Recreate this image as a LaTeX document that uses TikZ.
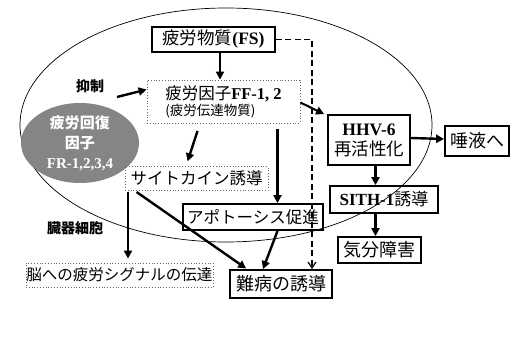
\documentclass[tikz,border=0pt]{standalone}
\usepackage{fontspec}
\setmainfont{Liberation Serif}
\newfontfamily\jp{Noto Sans CJK JP}
\usetikzlibrary{arrows.meta,shapes.geometric}
\newcommand\latb[1]{{\rmfamily\bfseries #1}}
\begin{document}
\begin{tikzpicture}[x=1pt,y=-1pt,
  solidbox/.style={draw=black,line width=1.8pt,inner sep=0pt,align=center,font=\jp\fontsize{16.5}{18}\selectfont},
  dotbox/.style={draw=black!60,dotted,line width=0.8pt,inner sep=0pt,align=center,font=\jp\fontsize{16.5}{18}\selectfont},
  arr/.style={line width=2.4pt,-{Triangle[length=8pt,width=8pt]}},
  darr/.style={line width=1.2pt,dash pattern=on 6pt off 3.5pt,-{Straight Barb[length=6pt,width=8pt]}},
  lbl/.style={font=\jp\bfseries\fontsize{14}{16}\selectfont}]
\useasboundingbox (0,0) rectangle (512,361);
\fill[white] (0,0) rectangle (512,361);
% big ellipse
\node[draw=black,line width=0.7pt,ellipse,minimum width=412pt,minimum height=234pt,inner sep=0pt] (cell) at (226,125) {};
% grey ellipse
\node[ellipse,fill=black!48,minimum width=118pt,minimum height=80pt,inner sep=0pt,text=white,align=center,font=\jp\bfseries\fontsize{15}{20}\selectfont] (fr) at (80,143) {疲労回復\\因子\\\latb{FR-1,2,3,4}};
% boxes
\node[solidbox,minimum width=123pt,minimum height=25pt,font=\jp\fontsize{17.5}{19}\selectfont] (fs) at (213.5,39.5) {疲労物質\latb{(FS)}};
\node[dotbox,minimum width=153pt,minimum height=43pt,align=left] (ff) at (223.5,101.5) {疲労因子\latb{FF-1, 2}\\[-2pt]{\fontsize{13.5}{15}\selectfont (疲労伝達物質)}};
\node[dotbox,minimum width=143pt,minimum height=24pt] (cyto) at (196.5,178.5) {サイトカイン誘導};
\node[solidbox,minimum width=140pt,minimum height=26pt] (apo) at (253,217) {アポトーシス促進};
\node[solidbox,minimum width=82pt,minimum height=50pt,font=\jp\fontsize{17.5}{20}\selectfont] (hhv) at (369,140) {\latb{HHV-6}\\再活性化};
\node[solidbox,minimum width=64pt,minimum height=30pt,font=\jp\fontsize{18}{20}\selectfont] (sal) at (477,141) {唾液へ};
\node[solidbox,minimum width=108pt,minimum height=27pt,font=\jp\fontsize{17}{19}\selectfont] (sith) at (384,199.5) {\latb{SITH-1}誘導};
\node[solidbox,minimum width=83pt,minimum height=26pt,font=\jp\fontsize{18}{20}\selectfont] (mood) at (379.5,250) {気分障害};
\node[solidbox,minimum width=102pt,minimum height=28pt,font=\jp\fontsize{18}{20}\selectfont] (nan) at (281,284) {難病の誘導};
\node[dotbox,minimum width=187pt,minimum height=24pt,font=\jp\fontsize{15.5}{17}\selectfont] (brain) at (119.5,275) {脳への疲労シグナルの伝達};
% labels
\node[lbl] (yoku) at (90,86) {抑制};
\node[lbl] (zoki) at (75,228) {臓器細胞};
% helper x positions
\coordinate (x220) at (220,0);
\coordinate (x312) at (312,0);
\coordinate (x200) at (200,0);
\coordinate (x186) at (186,0);
\coordinate (x277) at (277.5,0);
\coordinate (x263) at (263,0);
\coordinate (x135) at (135,0);
\coordinate (x247) at (247,0);
\coordinate (x128) at (128,0);
\coordinate (x375) at (375.5,0);
\coordinate (s1) at (117,97);
% connectors
\draw[arr] (fs.south -| x220) -- (ff.north -| x220);
\draw[darr] (fs.east) -| (nan.north -| x312);
\draw[arr] (s1) -- ([yshift=12pt]ff.west);
\draw[arr,shorten <=8pt,shorten >=5pt] (ff.south -| x200) -- (cyto.north -| x186);
\draw[arr,shorten <=6pt] (ff.south -| x277) -- (apo.north -| x277);
\draw[arr] (apo.south -| x277) -- (nan.north -| x263);
\draw[arr,shorten <=2pt,shorten >=1pt] (cyto.south -| x135) -- (nan.north -| x247);
\draw[arr,shorten <=1pt,shorten >=4pt] (cyto.south -| x128) -- (brain.north -| x128);
\draw[arr,line width=2pt] ([yshift=-1pt]ff.east) -- ([xshift=-3pt]hhv.north west);
\draw[arr] ([yshift=2pt]hhv.east) -- ([yshift=2pt]sal.west);
\draw[arr] (hhv.south -| x375) -- (sith.north -| x375);
\draw[arr] (sith.south -| x375) -- (mood.north -| x375);
\end{tikzpicture}
\end{document}
